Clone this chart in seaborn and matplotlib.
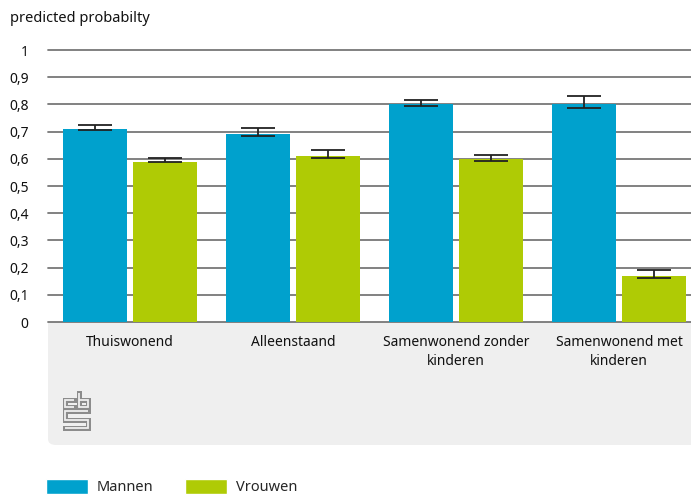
import numpy as np
import pandas as pd
import matplotlib
matplotlib.use('Agg')
import matplotlib.pyplot as plt
import seaborn as sns
from matplotlib.patches import FancyBboxPatch, Rectangle, Patch

# data
categories = ['Thuiswonend', 'Alleenstaand', 'Samenwonend zonder\nkinderen', 'Samenwonend met\nkinderen']
groups = ['Mannen', 'Vrouwen']
mannen = [0.71, 0.69, 0.80, 0.80]
vrouwen = [0.59, 0.61, 0.60, 0.17]
mannen_lo = [0.706, 0.684, 0.794, 0.787]
mannen_hi = [0.724, 0.713, 0.816, 0.831]
vrouwen_lo = [0.588, 0.603, 0.592, 0.162]
vrouwen_hi = [0.603, 0.632, 0.614, 0.191]

kleuren = {'Mannen': '#00A1CD', 'Vrouwen': '#AFCB05'}

df = pd.DataFrame({
    'categorie': categories * 2,
    'groep': ['Mannen'] * 4 + ['Vrouwen'] * 4,
    'waarde': mannen + vrouwen,
    'lo': mannen_lo + vrouwen_lo,
    'hi': mannen_hi + vrouwen_hi,
})

sns.set_style('white')
plt.rcParams['font.family'] = ['Noto Sans', 'DejaVu Sans']

W, H = 691, 495
fig = plt.figure(figsize=(W / 100, H / 100), dpi=100)


def fx(px):
    return px / W


def fy(py):
    return 1 - py / H


# grijze band onder de as (linksonder afgerond)
band = '#EFEFEF'
fig.patches.append(FancyBboxPatch((fx(48), fy(445)), 1 - fx(48) + 0.05, fy(322) - fy(445),
                                  boxstyle='round,pad=0,rounding_size=0.012',
                                  transform=fig.transFigure, facecolor=band, edgecolor='none', zorder=0))
fig.patches.append(Rectangle((fx(48), fy(380)), 1 - fx(48), fy(322) - fy(380),
                             transform=fig.transFigure, facecolor=band, edgecolor='none', zorder=0))

ax = fig.add_axes([fx(48), fy(322), 1 - fx(48), fy(50) - fy(322)])
ax.set_zorder(2)

# gridlijnen
for y in np.arange(0, 1.01, 0.1):
    ax.axhline(y, color='#777777', lw=1.3, zorder=0, clip_on=False)

sns.barplot(data=df, x='categorie', y='waarde', hue='groep', palette=kleuren,
            width=0.85, gap=0.075, errorbar=None, ax=ax, zorder=2, saturation=1, linewidth=0)

# foutbalken
bars = [p for p in ax.patches if p.get_height() > 0]
for p, (_, r) in zip(bars, df.iterrows()):
    xc = p.get_x() + p.get_width() / 2
    ax.errorbar(xc, r['waarde'], yerr=[[r['waarde'] - r['lo']], [r['hi'] - r['waarde']]],
                fmt='none', ecolor='#222222', elinewidth=1.3, capsize=12, capthick=1.3, zorder=3)

ax.set_xlim(-0.503, 3.442)
ax.set_ylim(0, 1)
ax.set_yticks(np.arange(0, 1.01, 0.1))
ax.set_yticklabels(['0'] + [f'0,{i}' for i in range(1, 10)] + ['1'])
ax.tick_params(axis='y', length=0, pad=14, labelsize=10, labelcolor='#111111')
ax.tick_params(axis='x', length=0, pad=9, labelsize=10, labelcolor='#111111')
for lab in ax.get_xticklabels():
    lab.set_linespacing(1.45)
ax.set_xlabel('')
ax.set_ylabel('')
ax.get_legend().remove()
for s in ax.spines.values():
    s.set_visible(False)
ax.patch.set_alpha(0)

fig.text(fx(10), fy(18), 'predicted probabilty', fontsize=10.5, va='center', ha='left', color='#111111')

# cbs logo (benadering)
logo = [
    [(74, 400), (65, 400), (65, 407), (74, 407)],
    [(79, 393), (79, 407), (88, 407), (88, 400), (79, 400)],
    [(88, 411), (65, 411), (65, 419.5), (88, 419.5), (88, 428), (65, 428)],
]
for pad in logo:
    xs = [fx(p[0]) for p in pad]
    ys = [fy(p[1]) for p in pad]
    fig.lines.append(plt.Line2D(xs, ys, transform=fig.transFigure, color='#8C8C8C', lw=3.6,
                                solid_capstyle='projecting', solid_joinstyle='miter', zorder=3))
    fig.lines.append(plt.Line2D(xs, ys, transform=fig.transFigure, color=band, lw=1.3,
                                solid_capstyle='butt', solid_joinstyle='miter', zorder=4))

handles = [Patch(facecolor=kleuren[g], label=g) for g in groups]
fig.legend(handles=handles, loc='lower left', bbox_to_anchor=(fx(40), -0.012), ncol=2, frameon=False,
           fontsize=10.5, handlelength=2.9, handleheight=1.2, handletextpad=0.6, columnspacing=2.15,
           borderaxespad=0)

fig.savefig('out.png', dpi=100)
